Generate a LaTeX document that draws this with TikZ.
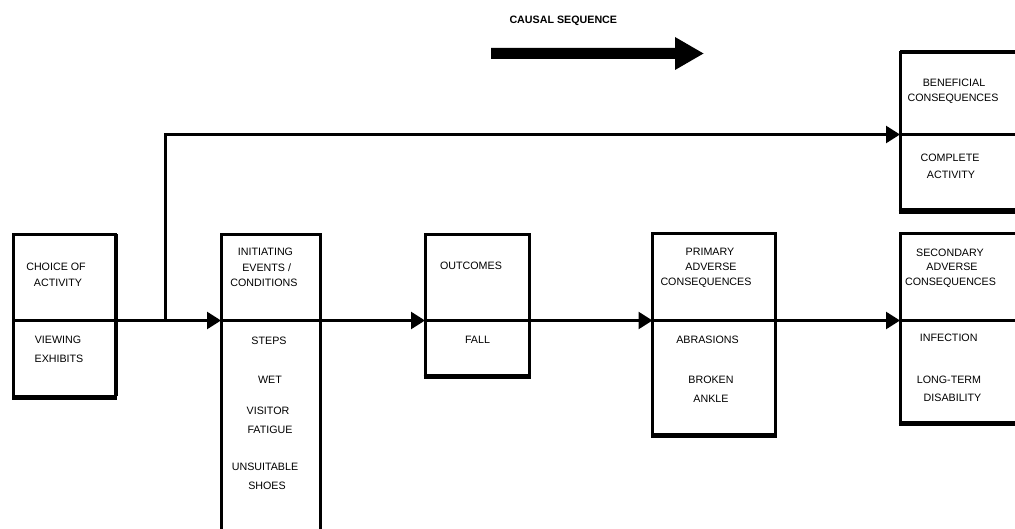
\documentclass[tikz,border=0pt]{standalone}
\usepackage{fontspec}
\setmainfont{Liberation Sans}
\usetikzlibrary{arrows.meta}
\begin{document}
\begin{tikzpicture}[x=1pt,y=-1pt,
  half/.style={draw, line width=3pt, inner sep=0pt, outer sep=0pt},
  lbl/.style={inner sep=0pt, text height=7.7pt, text depth=0pt, font=\fontsize{10.7}{12}\selectfont},
  conn/.style={line width=2.5pt, -{Triangle[length=14pt,width=17pt]}},
  shadowline/.style={line width=3.5pt}]
\useasboundingbox (0,0) rectangle (1015,529);
\clip (0,0) rectangle (1015,529);

% causal sequence arrow
\node[lbl, font=\fontsize{10.7}{12}\selectfont\bfseries] (cs) at (563.3,19.2) {CAUSAL SEQUENCE};
\fill (491,48) -- (675,48) -- (675,37) -- (703.5,53.5) -- (675,70) -- (675,59) -- (491,59) -- cycle;

% boxes (upper and lower halves)
\node[half, minimum width=102pt, minimum height=86pt]  (b1top) at (64.5,277.5) {};
\node[half, minimum width=102pt, minimum height=75.5pt] (b1bot) at (64.5,358.25) {};
\node[half, minimum width=99.5pt, minimum height=86pt]  (b2top) at (270.75,277.5) {};
\node[half, minimum width=99.5pt, minimum height=224.5pt] (b2bot) at (270.75,432.75) {};
\node[half, minimum width=104pt, minimum height=86pt]  (b3top) at (477,277.5) {};
\node[half, minimum width=104pt, minimum height=54.5pt] (b3bot) at (477,347.75) {};
\node[half, minimum width=122.5pt, minimum height=86.5pt] (b4top) at (713.75,277.25) {};
\node[half, minimum width=122.5pt, minimum height=113.5pt] (b4bot) at (713.75,377.25) {};
\node[half, minimum width=125pt, minimum height=81.5pt] (b5top) at (962.5,93.75) {};
\node[half, minimum width=125pt, minimum height=75.5pt] (b5bot) at (962.5,172.25) {};
\node[half, minimum width=125pt, minimum height=87pt]  (b6top) at (962.5,277) {};
\node[half, minimum width=125pt, minimum height=102pt] (b6bot) at (962.5,371.5) {};

% thicker (shadowed) bottom edges
\foreach \b in {b1bot,b3bot,b4bot,b5bot,b6bot}{
  \draw[shadowline] ([yshift=-2pt,xshift=-1.5pt]\b.south west) -- ([yshift=-2pt,xshift=1.5pt]\b.south east);
}
\foreach \b in {b1,b3,b4}{
  \draw[line width=1.5pt] ([xshift=1.5pt]\b top.north east) -- ([xshift=1.5pt]\b bot.south east);
}
\draw[line width=2pt] ([yshift=1.5pt]b5top.north west) -- ([yshift=1.5pt]b5top.north east);

% connectors
\coordinate (br) at (165.5,320.5);
\draw[conn] (b1top.south east) -- (b2top.south west);
\draw[conn] (br) |- (b5top.south west);
\draw[conn] (b2top.south east) -- (b3top.south west);
\draw[conn] (b3top.south east) -- (b4top.south west);
\draw[conn] (b4top.south east) -- (b6top.south west);

% labels
\node[lbl] (t1a) at (56,266.3) {CHOICE OF};
\node[lbl] (t1b) at (58,282.2) {ACTIVITY};
\node[lbl] (t1c) at (58,340) {VIEWING};
\node[lbl] (t1d) at (59,359) {EXHIBITS};

\node[lbl] (t2a) at (265.5,251.7) {INITIATING};
\node[lbl] (t2b) at (266.7,268) {EVENTS /};
\node[lbl] (t2c) at (264,283) {CONDITIONS};
\node[lbl] (t2d) at (269,341) {STEPS};
\node[lbl] (t2e) at (270,380) {WET};
\node[lbl] (t2f) at (268,411) {VISITOR};
\node[lbl] (t2g) at (270,430) {FATIGUE};
\node[lbl] (t2h) at (265,467) {UNSUITABLE};
\node[lbl] (t2i) at (267,486) {SHOES};

\node[lbl] (t3a) at (471,266) {OUTCOMES};
\node[lbl] (t3b) at (477.5,340) {FALL};

\node[lbl] (t4a) at (710,252) {PRIMARY};
\node[lbl] (t4b) at (711,267) {ADVERSE};
\node[lbl] (t4c) at (706,282) {CONSEQUENCES};
\node[lbl] (t4d) at (707.5,340) {ABRASIONS};
\node[lbl] (t4e) at (711,380) {BROKEN};
\node[lbl] (t4f) at (711,399) {ANKLE};

\node[lbl] (t5a) at (954,82.7) {BENEFICIAL};
\node[lbl] (t5b) at (953,98) {CONSEQUENCES};
\node[lbl] (t5c) at (950,158) {COMPLETE};
\node[lbl] (t5d) at (951,175) {ACTIVITY};

\node[lbl] (t6a) at (950,253) {SECONDARY};
\node[lbl] (t6b) at (952,267) {ADVERSE};
\node[lbl] (t6c) at (950.5,282) {CONSEQUENCES};
\node[lbl] (t6d) at (948.7,338) {INFECTION};
\node[lbl] (t6e) at (949,380) {LONG-TERM};
\node[lbl] (t6f) at (952.5,398) {DISABILITY};
\end{tikzpicture}
\end{document}
